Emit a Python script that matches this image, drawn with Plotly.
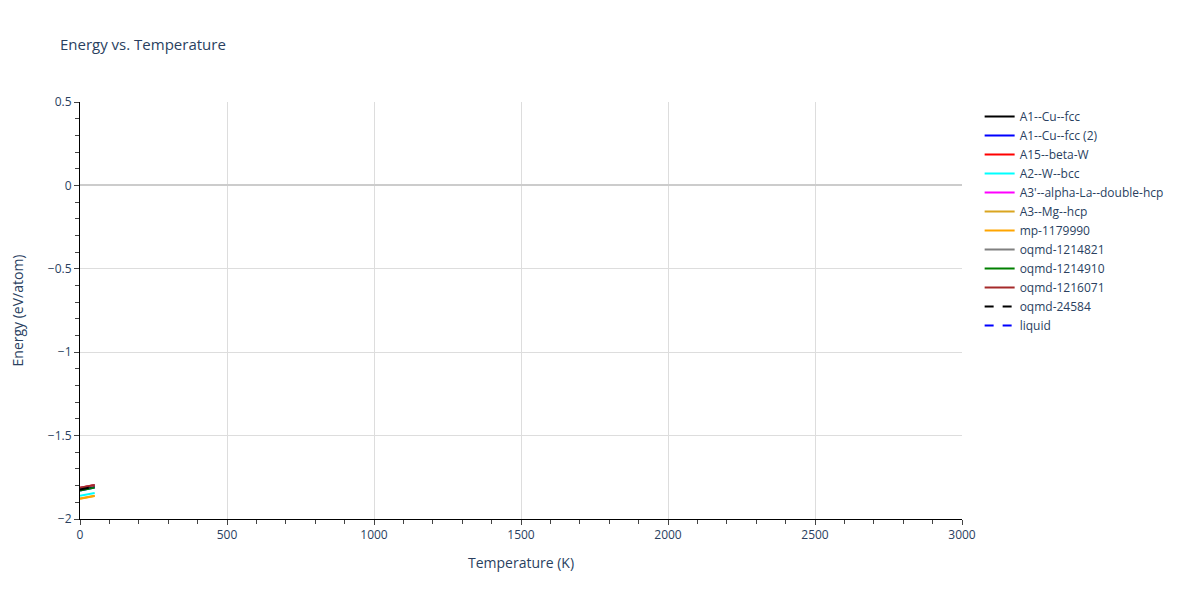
import plotly.graph_objects as go

# temperatures (K) for every phase
temps = [0, 10, 20, 30, 40, 50]

# energies (eV/atom)
a1_cu_fcc = [-1.823, -1.820, -1.817, -1.814, -1.810, -1.806]
a1_cu_fcc_2 = [-1.829, -1.826, -1.823, -1.820, -1.816, -1.812]
a15_beta_w = [-1.813, -1.810, -1.807, -1.804, -1.800, -1.796]
a2_w_bcc = [-1.861, -1.858, -1.855, -1.852, -1.848, -1.844]
a3p_alpha_la = [-1.814, -1.811, -1.808, -1.805, -1.801, -1.797]
a3_mg_hcp = [-1.877, -1.874, -1.871, -1.868, -1.864, -1.860]
mp_1179990 = [-1.879, -1.876, -1.873, -1.870, -1.866, -1.862]
oqmd_1214821 = [-1.814, -1.811, -1.808, -1.805, -1.801, -1.797]
oqmd_1214910 = [-1.829, -1.826, -1.823, -1.820, -1.816, -1.812]
oqmd_1216071 = [-1.813, -1.810, -1.807, -1.803, -1.800, -1.796]
oqmd_24584 = [-1.823, -1.820, -1.817, -1.814, -1.810, -1.806]
liquid = [-1.823, -1.820, -1.817, -1.814, -1.810, -1.806]

# (name, values, colour, dash) in legend order
series = [
    ("A1--Cu--fcc", a1_cu_fcc, "black", "solid"),
    ("A1--Cu--fcc (2)", a1_cu_fcc_2, "blue", "solid"),
    ("A15--beta-W", a15_beta_w, "red", "solid"),
    ("A2--W--bcc", a2_w_bcc, "cyan", "solid"),
    ("A3'--alpha-La--double-hcp", a3p_alpha_la, "magenta", "solid"),
    ("A3--Mg--hcp", a3_mg_hcp, "goldenrod", "solid"),
    ("mp-1179990", mp_1179990, "orange", "solid"),
    ("oqmd-1214821", oqmd_1214821, "gray", "solid"),
    ("oqmd-1214910", oqmd_1214910, "green", "solid"),
    ("oqmd-1216071", oqmd_1216071, "brown", "solid"),
    ("oqmd-24584", oqmd_24584, "black", "dash"),
    ("liquid", liquid, "blue", "dash"),
]

fig = go.Figure()
# liquid is drawn first (sits underneath), but keeps its place at the end of the legend
draw_order = [series[-1]] + series[:-1]
for name, vals, color, dash in draw_order:
    rank = 2000 if name == "liquid" else 1000
    fig.add_trace(go.Scatter(x=temps, y=vals, mode="lines", name=name, legendrank=rank,
                             line=dict(color=color, dash=dash, width=2)))

# page body adds 8px, margins are shifted to compensate
fig.update_layout(
    title=dict(text="Energy vs. Temperature", x=0.0433, y=0.947, font=dict(size=15)),
    width=1200, height=600,
    plot_bgcolor="white", paper_bgcolor="white",
    margin=dict(l=72, r=246, t=94, b=89),
    legend=dict(x=1.02, y=1, font=dict(size=12)),
)
fig.update_xaxes(title="Temperature (K)", range=[0, 3000], dtick=500,
                 showline=True, linecolor="black", ticks="outside",
                 gridcolor="#dddddd", zeroline=False,
                 minor=dict(dtick=100, ticks="outside", ticklen=4, showgrid=False))
fig.update_yaxes(title=dict(text="Energy (eV/atom)", standoff=30), automargin=False,
                 range=[-2, 0.5], dtick=0.5,
                 showline=True, linecolor="black", ticks="outside",
                 gridcolor="#dddddd", zeroline=True, zerolinecolor="#cccccc",
                 zerolinewidth=2,
                 minor=dict(dtick=0.1, ticks="outside", ticklen=4, showgrid=False))

fig.write_html("out.html")
